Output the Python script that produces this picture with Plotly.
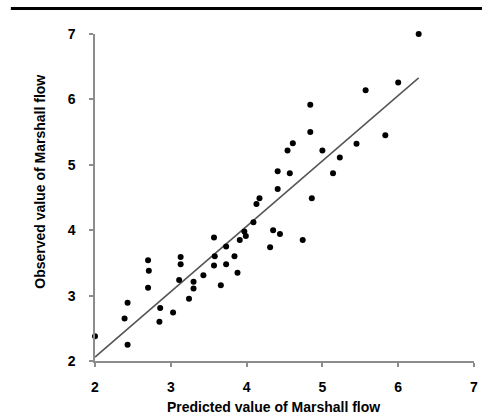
import plotly.graph_objects as go

# Data
predicted = [2.00, 2.43, 2.39, 2.43, 2.70, 2.71, 2.70, 2.86, 2.85, 3.03,
             3.13, 3.13, 3.11, 3.24, 3.30, 3.30, 3.43, 3.57, 3.57, 3.58,
             3.66, 3.73, 3.73, 3.84, 3.88, 3.91, 3.97, 3.99, 4.09, 4.13,
             4.17, 4.31, 4.35, 4.44, 4.41, 4.41, 4.57, 4.54, 4.61, 4.74,
             4.84, 4.84, 4.86, 5.00, 5.14, 5.23, 5.45, 5.57, 5.83, 6.00,
             6.27]
observed = [2.38, 2.25, 2.65, 2.89, 3.54, 3.38, 3.12, 2.81, 2.60, 2.74,
            3.59, 3.48, 3.24, 2.95, 3.21, 3.11, 3.31, 3.89, 3.46, 3.60,
            3.16, 3.75, 3.48, 3.60, 3.35, 3.85, 3.98, 3.91, 4.12, 4.40,
            4.49, 3.74, 4.00, 3.94, 4.63, 4.90, 4.87, 5.22, 5.33, 3.85,
            5.92, 5.50, 4.49, 5.22, 4.87, 5.11, 5.32, 6.14, 5.45, 6.26,
            7.00]
trend_x = [2.00, 6.27]
trend_y = [2.06, 6.33]
tick_vals = [2, 3, 4, 5, 6, 7]
tick_text = ["2", "3", "4", "5", "6", "7"]
x_title = "Predicted value of Marshall flow"
y_title = "Observed value of Marshall flow"

FONT = "Liberation Sans"

fig = go.Figure()
fig.add_trace(go.Scatter(
    x=trend_x, y=trend_y, mode="lines",
    line=dict(color="#555555", width=1.5),
    showlegend=False, hoverinfo="skip", cliponaxis=False,
))
fig.add_trace(go.Scatter(
    x=predicted, y=observed, mode="markers",
    marker=dict(color="black", size=6, symbol="circle"),
    showlegend=False, hoverinfo="skip", cliponaxis=False,
))

axis_common = dict(
    range=[2, 7], tickvals=tick_vals, ticktext=tick_text,
    showgrid=False, zeroline=False, showline=True,
    linecolor="#8c8c8c", linewidth=1.5,
    ticks="outside", ticklen=4, tickcolor="#8c8c8c", tickwidth=1.5,
    tickfont=dict(family=FONT, size=14, color="black", weight="bold"),
)

fig.update_layout(
    width=486, height=420,
    margin=dict(l=95, r=8, t=34, b=59),
    plot_bgcolor="white", paper_bgcolor="white",
    xaxis=dict(**axis_common, ticklabelstandoff=8),
    yaxis=dict(**axis_common, ticklabelstandoff=11),
    shapes=[dict(type="line", xref="paper", yref="paper",
                 x0=-0.222, x1=1.021, y0=1.078, y1=1.078,
                 line=dict(color="black", width=3))],
    annotations=[
        dict(text=x_title, xref="paper", yref="paper", x=0.47, y=-0.141,
             showarrow=False, xanchor="center", yanchor="middle",
             font=dict(family=FONT, size=14, color="black", weight="bold")),
        dict(text=y_title, xref="paper", yref="paper", x=-0.1436, y=0.547,
             showarrow=False, xanchor="center", yanchor="middle", textangle=-90,
             font=dict(family=FONT, size=14, color="black", weight="bold")),
    ],
)

fig.write_html("out.html")
